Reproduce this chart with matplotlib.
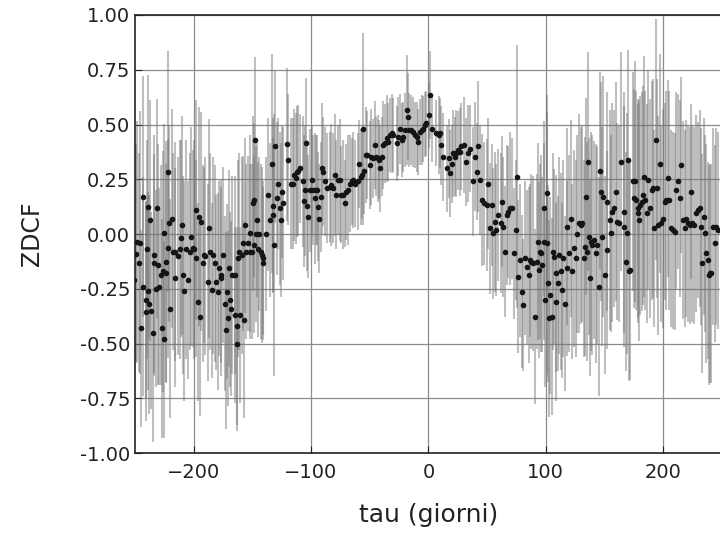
import numpy as np
import matplotlib
matplotlib.use("Agg")
import matplotlib.pyplot as plt

# ZDCF values, split by lag range (tau in days)
tau_a = [-250.6, -249.0, -248.0, -247.0, -246.0, -245.0, -243.5, -243.0, -241.0, -240.6,
         -240.0, -239.2, -238.8, -238.0, -237.0, -236.0, -235.0, -234.0, -233.5, -232.0,
         -231.0, -230.6, -229.8, -228.0, -227.0, -226.0, -225.5, -225.0, -224.0, -223.5,
         -222.2, -221.8, -221.0, -220.0, -218.4, -217.8, -216.0, -215.5, -213.5, -212.0,
         -210.7, -210.0, -209.0, -208.0, -206.4, -205.0, -203.5, -202.0, -201.0, -200.0,
         -198.4, -198.0, -196.5, -195.6, -195.0, -193.6, -192.0, -191.0, -190.0, -188.0,
         -187.0, -186.0, -184.0, -183.6, -182.0, -181.0, -179.3, -178.5, -177.0, -176.5,
         -175.0, -173.6, -172.8, -171.6, -170.8, -170.0, -168.8, -168.0]
zdcf_a = [-0.21, -0.09, -0.035, -0.13, -0.04, -0.43, -0.24, 0.17, -0.30, -0.355,
          -0.07, 0.125, -0.26, -0.32, 0.064, -0.35, -0.45, -0.096, -0.134, -0.25,
          0.117, -0.14, -0.24, -0.187, -0.43, -0.17, -0.48, 0.003, -0.126, -0.18,
          0.285, -0.065, 0.05, -0.34, 0.07, -0.08, -0.20, -0.08, -0.10, -0.07,
          -0.02, 0.04, -0.187, -0.26, -0.07, -0.21, -0.08, -0.012, -0.065, -0.07,
          0.11, -0.11, -0.31, 0.08, -0.38, 0.056, -0.134, -0.096, -0.10, -0.22,
          0.026, -0.08, -0.256, -0.096, -0.134, -0.22, -0.263, -0.157, -0.20, -0.187,
          -0.096, -0.317, -0.44, -0.263, -0.385, -0.157, -0.30, -0.34]
err_a = [0.45, 0.5, 0.55, 0.5, 0.6, 0.45, 0.5, 0.55, 0.45, 0.5,
         0.5, 0.6, 0.45, 0.5, 0.55, 0.45, 0.5, 0.55, 0.5, 0.45,
         0.5, 0.55, 0.45, 0.5, 0.5, 0.55, 0.45, 0.5, 0.55, 0.5,
         0.55, 0.5, 0.45, 0.5, 0.5, 0.45, 0.5, 0.5, 0.45, 0.5,
         0.45, 0.5, 0.45, 0.5, 0.5, 0.45, 0.45, 0.5, 0.45, 0.5,
         0.5, 0.45, 0.45, 0.5, 0.45, 0.5, 0.45, 0.4, 0.45, 0.45,
         0.5, 0.45, 0.4, 0.45, 0.45, 0.4, 0.45, 0.4, 0.45, 0.4,
         0.4, 0.4, 0.45, 0.4, 0.4, 0.45, 0.4, 0.4]

tau_b = [-167.0, -165.0, -164.6, -163.5, -163.2, -162.0, -161.2, -160.7, -159.2, -157.8,
         -157.2, -156.4, -155.5, -153.5, -152.4, -152.0, -150.7, -149.8, -149.0, -148.7,
         -147.8, -147.0, -145.8, -145.0, -144.0, -143.0, -142.0, -141.3, -140.7, -138.4,
         -136.4, -135.0, -133.6, -132.7, -132.0, -131.3, -130.7, -129.3, -127.9, -126.4,
         -125.6, -125.0, -123.6, -120.8, -119.3, -117.0, -115.6, -114.5, -112.8, -112.2,
         -110.8, -109.4, -106.5, -106.0, -105.0, -104.3, -103.7, -102.2, -100.8, -99.4,
         -98.5, -96.5, -95.7, -94.5, -93.7, -92.8, -91.7, -90.8, -89.4, -88.0,
         -86.0]
zdcf_b = [-0.187, -0.187, -0.37, -0.42, -0.50, -0.11, -0.08, -0.37, -0.096, -0.043,
          -0.39, 0.04, -0.08, -0.043, 0.003, -0.08, -0.08, 0.14, 0.155, -0.05,
          0.43, 0.0, 0.064, -0.07, 0.0, -0.08, -0.096, -0.134, -0.11, 0.0,
          0.18, 0.064, 0.32, 0.087, 0.13, -0.05, 0.40, 0.163, 0.23, 0.117,
          0.064, 0.193, 0.14, 0.41, 0.34, 0.23, 0.23, 0.27, 0.254, 0.285,
          0.29, 0.30, 0.24, 0.15, 0.20, 0.414, 0.13, 0.08, 0.20, 0.247,
          0.20, 0.163, 0.20, 0.20, 0.125, 0.07, 0.17, 0.30, 0.285, 0.24,
          0.21]
err_b = [0.45, 0.45, 0.4, 0.45, 0.4, 0.45, 0.45, 0.4, 0.45, 0.4,
         0.45, 0.4, 0.4, 0.4, 0.45, 0.4, 0.4, 0.4, 0.35, 0.4,
         0.38, 0.4, 0.35, 0.4, 0.35, 0.4, 0.4, 0.35, 0.35, 0.35,
         0.35, 0.35, 0.5, 0.35, 0.4, 0.6, 0.35, 0.35, 0.3, 0.35,
         0.35, 0.3, 0.35, 0.35, 0.3, 0.3, 0.3, 0.3, 0.3, 0.3,
         0.3, 0.25, 0.3, 0.3, 0.3, 0.3, 0.3, 0.28, 0.28, 0.25,
         0.25, 0.3, 0.25, 0.25, 0.25, 0.25, 0.25, 0.3, 0.25, 0.25,
         0.25]

tau_c = [-84.0, -82.7, -81.2, -79.8, -78.4, -77.0, -75.5, -74.1, -72.7, -71.3,
         -69.8, -68.4, -67.0, -65.5, -64.1, -62.7, -60.4, -59.0, -57.6, -57.0,
         -55.6, -54.7, -53.3, -51.9, -49.9, -48.5, -47.0, -45.6, -45.0, -43.3,
         -42.2, -41.3, -39.9, -38.5, -37.0, -35.6, -34.2, -32.8, -31.4, -30.0,
         -27.1, -25.6, -24.2, -22.8, -21.4, -20.0, -18.5, -17.1, -16.3, -14.8,
         -12.8, -11.4, -10.0, -8.5, -7.1, -5.7, -4.3, -2.8]
zdcf_c = [0.216, 0.224, 0.21, 0.27, 0.18, 0.247, 0.247, 0.18, 0.18, 0.14,
          0.193, 0.20, 0.23, 0.24, 0.247, 0.23, 0.24, 0.32, 0.26, 0.27,
          0.48, 0.29, 0.36, 0.36, 0.315, 0.353, 0.345, 0.406, 0.353, 0.345,
          0.34, 0.30, 0.353, 0.406, 0.414, 0.437, 0.42, 0.452, 0.46, 0.452,
          0.414, 0.444, 0.48, 0.43, 0.444, 0.475, 0.566, 0.536, 0.475, 0.475,
          0.467, 0.452, 0.444, 0.42, 0.467, 0.475, 0.48, 0.50]
err_c = [0.25, 0.28, 0.25, 0.28, 0.25, 0.25, 0.28, 0.22, 0.25, 0.2,
         0.22, 0.25, 0.22, 0.2, 0.22, 0.2, 0.22, 0.2, 0.22, 0.2,
         0.44, 0.2, 0.22, 0.2, 0.2, 0.22, 0.18, 0.2, 0.18, 0.2,
         0.18, 0.2, 0.18, 0.2, 0.18, 0.2, 0.18, 0.17, 0.18, 0.17,
         0.17, 0.18, 0.16, 0.17, 0.16, 0.17, 0.25, 0.2, 0.17, 0.16,
         0.16, 0.15, 0.16, 0.15, 0.15, 0.16, 0.15, 0.15]

tau_d = [-1.7, 0.6, 1.7, 3.4, 6.8, 9.1, 10.3, 11.1, 12.5, 16.0,
         17.7, 18.8, 19.7, 21.1, 22.5, 23.9, 25.4, 26.8, 28.2, 30.2,
         31.9, 33.9, 35.3, 37.6, 39.6, 41.0, 42.4, 43.9, 45.3, 47.3,
         49.6, 51.0, 52.4, 53.8, 55.3, 56.7, 57.6, 59.6, 61.6, 62.4,
         63.9, 65.3, 66.7, 68.1, 69.5, 71.0, 73.0, 74.7, 75.8, 76.6,
         78.1, 79.5, 80.4]
zdcf_d = [0.505, 0.543, 0.635, 0.48, 0.46, 0.452, 0.46, 0.406, 0.353, 0.30,
          0.345, 0.277, 0.32, 0.368, 0.353, 0.368, 0.383, 0.376, 0.40, 0.406,
          0.33, 0.368, 0.39, 0.24, 0.353, 0.285, 0.40, 0.247, 0.155, 0.14,
          0.132, 0.23, 0.026, 0.132, 0.003, 0.056, 0.018, 0.087, 0.049, 0.148,
          0.033, -0.08, 0.087, 0.10, 0.117, 0.117, -0.088, 0.018, 0.262, -0.195,
          -0.12, -0.263, -0.324]
err_d = [0.15, 0.15, 0.2, 0.15, 0.15, 0.18, 0.16, 0.18, 0.2, 0.2,
         0.18, 0.2, 0.18, 0.2, 0.18, 0.2, 0.18, 0.2, 0.2, 0.22,
         0.2, 0.22, 0.2, 0.25, 0.25, 0.22, 0.3, 0.25, 0.3, 0.28,
         0.3, 0.3, 0.3, 0.28, 0.3, 0.32, 0.3, 0.3, 0.32, 0.3,
         0.32, 0.3, 0.32, 0.3, 0.35, 0.32, 0.3, 0.32, 0.6, 0.35,
         0.35, 0.35, 0.3]

tau_e = [82.6, 84.0, 85.5, 86.3, 87.5, 89.2, 91.2, 92.6, 93.2, 94.0,
         94.9, 96.0, 96.9, 98.3, 98.9, 99.7, 101.2, 101.4, 101.7, 102.6,
         104.0, 104.9, 106.3, 107.4, 108.3, 109.1, 110.3, 111.1, 112.6, 114.0,
         114.8, 116.0, 117.7, 118.3, 119.7, 121.1, 122.5, 124.0, 125.4, 126.8,
         128.2, 129.7, 131.1, 132.5, 133.4, 134.0, 134.8, 135.9, 136.8, 137.6,
         138.2, 139.6, 141.0, 142.5, 143.9, 145.3, 146.2, 146.7, 148.2, 149.0,
         150.2, 151.9, 152.4, 154.7, 155.9, 156.7, 158.1, 159.6, 161.0, 162.4,
         163.9]
zdcf_e = [-0.11, -0.15, -0.187, -0.12, -0.126, -0.134, -0.377, -0.126, -0.035, -0.164,
          -0.08, -0.088, -0.14, 0.117, -0.035, -0.30, 0.186, -0.043, -0.225, -0.385,
          -0.28, -0.377, -0.08, -0.103, -0.31, -0.18, -0.225, -0.096, -0.17, -0.256,
          -0.11, -0.317, 0.033, -0.157, -0.088, 0.07, -0.17, -0.065, -0.11, 0.0,
          0.05, 0.04, 0.05, -0.11, -0.058, 0.17, -0.08, 0.33, -0.012, -0.20,
          -0.035, -0.05, -0.027, -0.088, -0.05, -0.24, 0.29, 0.193, -0.012, 0.17,
          -0.187, 0.148, -0.073, 0.064, 0.003, 0.10, 0.117, 0.193, 0.056, 0.049,
          0.33]
err_e = [0.35, 0.35, 0.4, 0.35, 0.4, 0.4, 0.4, 0.4, 0.45, 0.4,
         0.4, 0.45, 0.4, 0.4, 0.45, 0.4, 0.45, 0.6, 0.45, 0.45,
         0.45, 0.45, 0.45, 0.4, 0.45, 0.45, 0.4, 0.45, 0.45, 0.4,
         0.45, 0.4, 0.45, 0.4, 0.45, 0.45, 0.4, 0.45, 0.45, 0.45,
         0.5, 0.45, 0.45, 0.45, 0.5, 0.45, 0.5, 0.5, 0.45, 0.45,
         0.5, 0.5, 0.45, 0.5, 0.45, 0.5, 0.45, 0.5, 0.5, 0.55,
         0.45, 0.5, 0.45, 0.5, 0.45, 0.5, 0.45, 0.5, 0.45, 0.45,
         0.5]

tau_f = [166.4, 167.0, 168.4, 169.2, 170.4, 171.2, 172.1, 174.1, 174.9, 176.1,
         176.9, 178.4, 178.9, 179.8, 180.6, 181.8, 182.6, 183.5, 184.6, 186.3,
         187.5, 189.2, 190.3, 191.2, 192.6, 194.0, 194.9, 196.0, 197.7, 198.3,
         199.7, 201.2, 202.6, 204.0, 205.4, 206.9, 208.3, 209.7, 211.1, 212.6,
         214.0, 215.4, 216.8, 218.3, 219.7, 221.1, 222.5, 223.4, 224.5, 226.2,
         228.2, 229.7, 231.1, 232.5, 233.4, 234.8, 235.4, 236.8, 238.3, 238.8,
         239.7, 241.1, 242.5, 244.0, 245.4, 246.8]
zdcf_f = [0.10, 0.033, -0.126, 0.003, 0.338, -0.17, -0.164, 0.24, 0.163, 0.24,
          0.155, 0.117, 0.094, 0.064, 0.132, 0.148, 0.178, 0.262, 0.155, 0.094,
          0.247, 0.117, 0.20, 0.21, 0.026, 0.43, 0.21, 0.04, 0.32, 0.05,
          0.07, 0.148, 0.155, 0.254, 0.155, 0.026, 0.018, 0.01, 0.20, 0.24,
          0.163, 0.315, 0.064, 0.026, 0.07, 0.05, 0.04, 0.193, 0.049, 0.04,
          0.094, 0.11, 0.117, 0.033, -0.134, 0.08, 0.003, -0.088, -0.12, -0.187,
          -0.18, -0.18, 0.033, -0.043, 0.033, 0.018]
err_f = [0.55, 0.55, 0.5, 0.55, 0.5, 0.5, 0.5, 0.5, 0.5, 0.55,
         0.5, 0.5, 0.5, 0.55, 0.5, 0.5, 0.5, 0.55, 0.5, 0.5,
         0.5, 0.5, 0.5, 0.5, 0.45, 0.55, 0.5, 0.5, 0.5, 0.45,
         0.5, 0.45, 0.5, 0.45, 0.5, 0.45, 0.45, 0.45, 0.45, 0.4,
         0.45, 0.4, 0.45, 0.45, 0.45, 0.45, 0.45, 0.4, 0.45, 0.45,
         0.45, 0.4, 0.45, 0.45, 0.5, 0.45, 0.45, 0.5, 0.45, 0.5,
         0.5, 0.5, 0.45, 0.45, 0.45, 0.45]

tau = np.concatenate([tau_a, tau_b, tau_c, tau_d, tau_e, tau_f])
zdcf = np.concatenate([zdcf_a, zdcf_b, zdcf_c, zdcf_d, zdcf_e, zdcf_f])
err = np.concatenate([err_a, err_b, err_c, err_d, err_e, err_f])

fig = plt.figure(figsize=(7.2, 5.35), dpi=100)
ax = fig.add_axes([0.1875, 0.153, 0.815, 0.819])

ax.errorbar(tau, zdcf, yerr=err, fmt='none', ecolor=(0.45, 0.45, 0.45, 0.45),
            elinewidth=1.5, capsize=0, zorder=2)
ax.plot(tau, zdcf, 'o', color='#151515', markersize=3.0, zorder=3)

ax.set_xlim(-250, 250)
ax.set_ylim(-1.0, 1.0)
ax.set_xticks([-200, -100, 0, 100, 200])
ax.set_yticks(np.arange(-1.0, 1.01, 0.25))
ax.yaxis.set_major_formatter(matplotlib.ticker.FormatStrFormatter('%.2f'))
ax.grid(True, color='#8c8c8c', linewidth=0.9)
ax.set_axisbelow(True)
ax.tick_params(direction='in', labelsize=14, colors='#222222', length=5)
ax.tick_params(axis='x', pad=7)
for s in ax.spines.values():
    s.set_linewidth(1.2)
    s.set_color('#222222')

ax.set_xlabel('tau (giorni)', fontsize=18, color='#222222', labelpad=15)
ax.set_ylabel('ZDCF', fontsize=17, color='#222222', labelpad=26)

fig.savefig('out.png', dpi=100)
